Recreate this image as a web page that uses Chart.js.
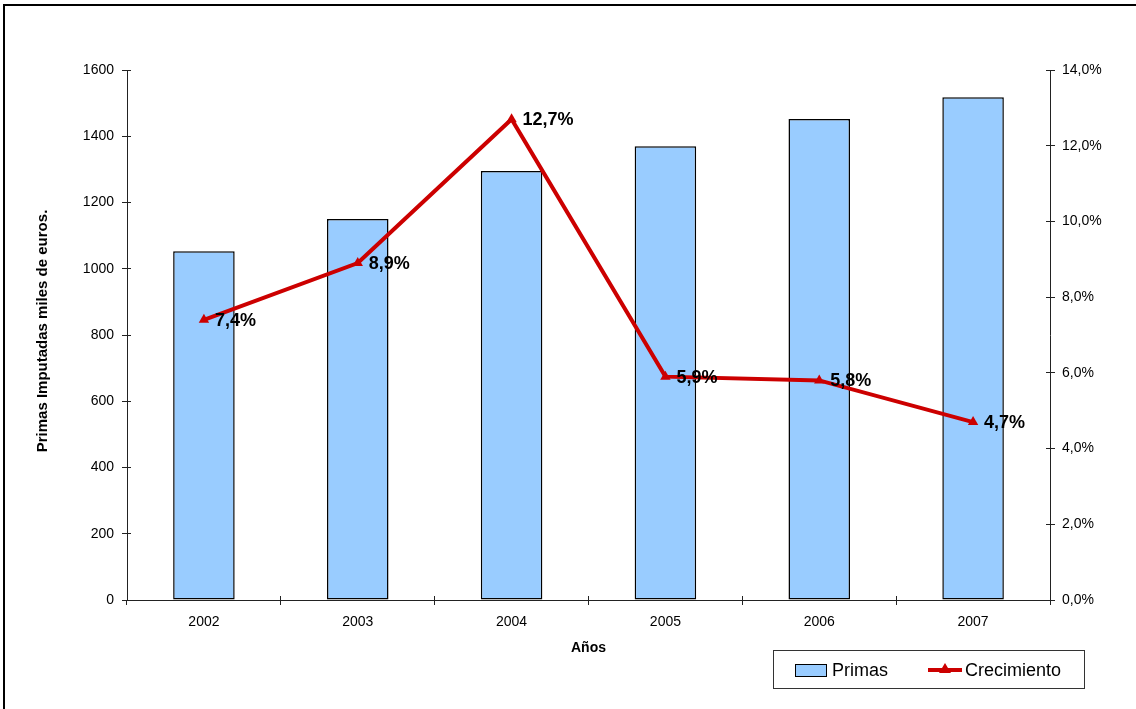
<!DOCTYPE html>
<html>
<head>
<meta charset="utf-8">
<script src="https://cdn.jsdelivr.net/npm/chart.js@4/dist/chart.umd.min.js"></script>
<style>
  body { margin: 0; background: #fff; }
  #wrap { width: 1136px; height: 709px; }
</style>
</head>
<body>
<div id="wrap"><canvas id="myChart"></canvas></div>
<script>
// data
var years = ['2002', '2003', '2004', '2005', '2006', '2007'];
var primas = [1053, 1150, 1295, 1370, 1452, 1518];
var crecimiento = [7.4, 8.9, 12.7, 5.9, 5.8, 4.7];
var leftTicks = [0, 200, 400, 600, 800, 1000, 1200, 1400, 1600];
var rightTicks = [0, 2, 4, 6, 8, 10, 12, 14];

var FONT = '"Liberation Sans", Arial, sans-serif';
var RED = '#CC0000';
var BLUE = '#99CCFF';
var AXIS = '#222';

function pct(v, d){
    return v.toFixed(d).replace('.', ',') + '%';
}

// same pixel snapping chart.js uses for 1px lines
function snap(p){
    return Math.round(p + 0.5) - 0.5;
}

// frame, inner tick halves, y title, point labels and the boxed legend
var extras = {
    id: 'extras',
    beforeDraw: function(chart){
        var ctx = chart.ctx;
        ctx.save();
        ctx.fillStyle = '#fff';
        ctx.fillRect(0, 0, chart.width, chart.height);
        ctx.fillStyle = '#000';
        ctx.fillRect(3, 4, chart.width, 2);
        ctx.fillRect(3, 4, 2, chart.height);
        ctx.restore();
    },
    afterDraw: function(chart){
        var ctx = chart.ctx;
        var x = chart.scales.x, y = chart.scales.y, y1 = chart.scales.y1;
        ctx.save();
        ctx.strokeStyle = AXIS;
        ctx.lineWidth = 1;
        ctx.beginPath();
        var step = (x.right - x.left) / years.length;
        for (var i = 0; i <= years.length; i++) {
            var px = snap(x.left + i * step);
            ctx.moveTo(px, x.top);
            ctx.lineTo(px, x.top - 4);
        }
        leftTicks.forEach(function(v){
            var py = snap(y.getPixelForValue(v));
            ctx.moveTo(y.right, py);
            ctx.lineTo(y.right + 4, py);
        });
        rightTicks.forEach(function(v){
            var py = snap(y1.getPixelForValue(v));
            ctx.moveTo(y1.left, py);
            ctx.lineTo(y1.left - 4, py);
        });
        ctx.stroke();

        // left axis title
        ctx.translate(43, 331);
        ctx.rotate(-Math.PI / 2);
        ctx.fillStyle = '#000';
        ctx.font = 'bold 15px ' + FONT;
        ctx.textAlign = 'center';
        ctx.textBaseline = 'middle';
        ctx.fillText('Primas Imputadas miles de euros.', 0, 0);
        ctx.restore();
    },
    afterDatasetsDraw: function(chart){
        var ctx = chart.ctx;
        var meta = chart.getDatasetMeta(0);
        ctx.save();
        ctx.font = 'bold 18px ' + FONT;
        ctx.fillStyle = '#000';
        ctx.textBaseline = 'middle';
        ctx.textAlign = 'left';
        meta.data.forEach(function(pt, i){
            ctx.fillText(pct(crecimiento[i], 1), pt.x + 11, pt.y + 1);
        });

        // legend box
        var bx = 773, by = 650, bw = 311, bh = 38;
        ctx.strokeStyle = '#333';
        ctx.lineWidth = 1;
        ctx.strokeRect(bx + 0.5, by + 0.5, bw, bh);
        ctx.fillStyle = BLUE;
        ctx.fillRect(795, 664, 31, 12);
        ctx.strokeStyle = '#000';
        ctx.strokeRect(795.5, 664.5, 31, 12);
        ctx.strokeStyle = RED;
        ctx.lineWidth = 4;
        ctx.beginPath();
        ctx.moveTo(928, 670);
        ctx.lineTo(962, 670);
        ctx.stroke();
        ctx.fillStyle = RED;
        ctx.beginPath();
        ctx.moveTo(945, 663);
        ctx.lineTo(951, 673);
        ctx.lineTo(939, 673);
        ctx.closePath();
        ctx.fill();
        ctx.fillStyle = '#000';
        ctx.font = '18px ' + FONT;
        ctx.fillText('Primas', 832, 671);
        ctx.fillText('Crecimiento', 965, 671);
        ctx.restore();
    }
};

var ctx = document.getElementById('myChart');
var chart = new Chart(ctx, {
    type: 'bar',
    data: {
        labels: years,
        datasets: [{
            type: 'line',
            label: 'Crecimiento',
            data: crecimiento,
            yAxisID: 'y1',
            borderColor: RED,
            backgroundColor: RED,
            borderWidth: 4,
            pointStyle: 'triangle',
            pointRadius: 6,
            pointBorderWidth: 0,
            tension: 0,
            order: 0
        }, {
            label: 'Primas',
            data: primas,
            yAxisID: 'y',
            backgroundColor: BLUE,
            borderColor: '#000',
            borderWidth: 1.5,
            borderSkipped: false,
            barPercentage: 0.8,
            categoryPercentage: 0.5,
            order: 1
        }]
    },
    options: {
        responsive: true,
        maintainAspectRatio: false,
        animation: false,
        layout: { padding: { top: 70, left: 30, right: 0, bottom: 48 } },
        plugins: {
            legend: { display: false },
            tooltip: { enabled: false }
        },
        scales: {
            x: {
                offset: true,
                grid: { offset: true, drawOnChartArea: false, color: AXIS, tickLength: 5 },
                border: { color: AXIS },
                ticks: { color: '#000', font: { family: FONT, size: 14 }, padding: 9 },
                title: { display: true, text: 'Años', color: '#000',
                         font: { family: FONT, size: 14, weight: 'bold' }, padding: { top: 4, bottom: 4 } },
                afterFit: function(s){ s.height = 61; }
            },
            y: {
                position: 'left',
                min: 0, max: 1600,
                afterBuildTicks: function(s){ s.ticks = leftTicks.map(function(v){ return { value: v }; }); },
                grid: { drawOnChartArea: false, color: AXIS, tickLength: 5 },
                border: { color: AXIS },
                ticks: { color: '#000', font: { family: FONT, size: 14 }, padding: 8,
                         callback: function(v){ return String(v); } },
                afterFit: function(s){ s.width = 97; }
            },
            y1: {
                position: 'right',
                min: 0, max: 14,
                afterBuildTicks: function(s){ s.ticks = rightTicks.map(function(v){ return { value: v }; }); },
                grid: { drawOnChartArea: false, color: AXIS, tickLength: 5 },
                border: { color: AXIS },
                ticks: { color: '#000', font: { family: FONT, size: 14 }, padding: 7,
                         callback: function(v){ return pct(v, 1); } },
                afterFit: function(s){ s.width = 86; }
            }
        }
    },
    plugins: [extras]
});
</script>
</body>
</html>
